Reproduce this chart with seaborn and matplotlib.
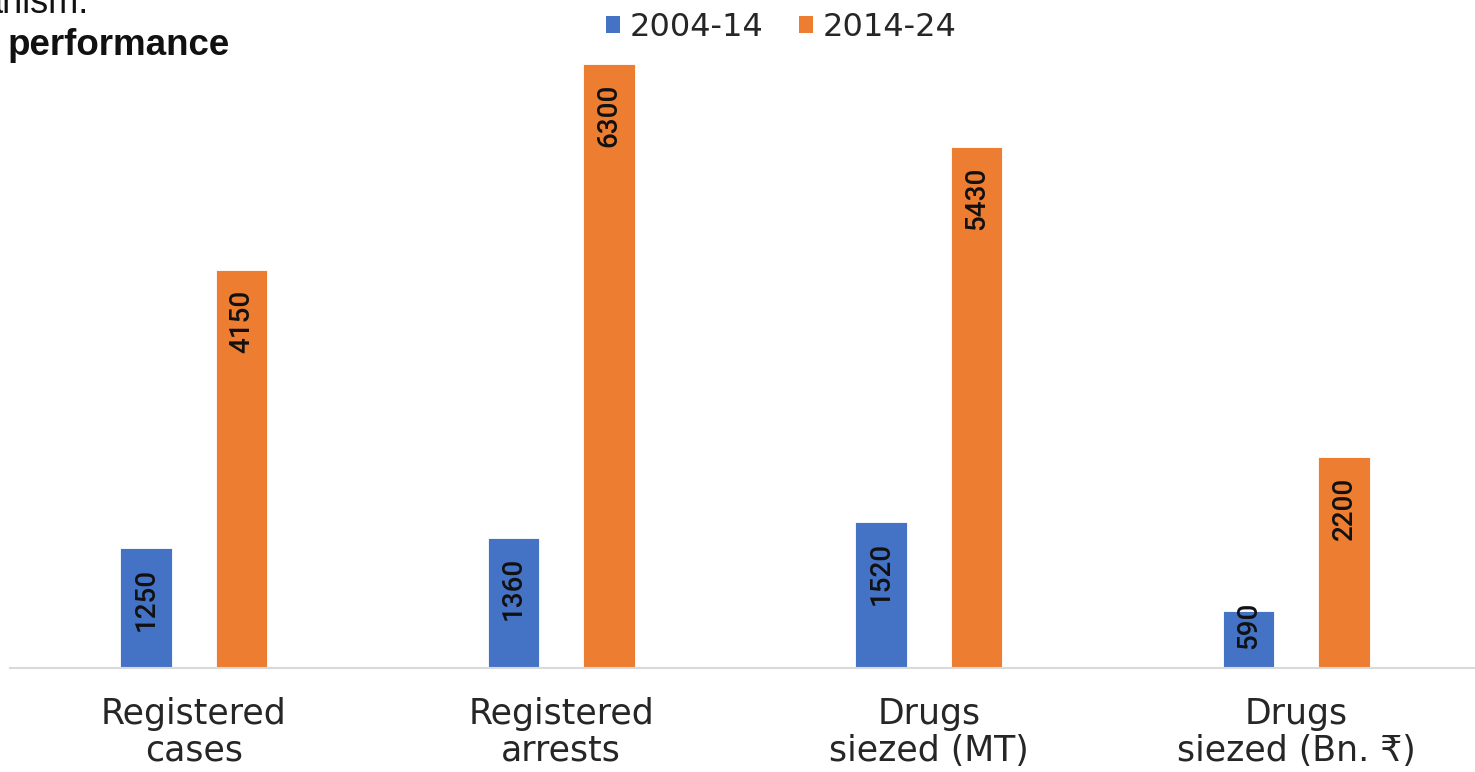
import pandas as pd
import seaborn as sns
import matplotlib.pyplot as plt
from matplotlib.patches import Patch

# Data
categories = ['Registered\ncases', 'Registered\narrests', 'Drugs\nsiezed (MT)', 'Drugs\nsiezed (Bn. ₹)']
periods = ['2004-14', '2014-24']
vals_2004_14 = [1250, 1360, 1520, 590]
vals_2014_24 = [4150, 6300, 5430, 2200]

df = pd.DataFrame({
    'category': categories * 2,
    'period': [periods[0]] * 4 + [periods[1]] * 4,
    'value': vals_2004_14 + vals_2014_24,
})

palette = {'2004-14': '#4472C4', '2014-24': '#ED7D31'}
text_col = '#262626'

sns.set_theme(style='white')
plt.rcParams['font.family'] = ['DejaVu Sans']

W, H = 1475, 772
fig = plt.figure(figsize=(W / 100, H / 100), dpi=100)
# axes placed in pixel terms: left 10px, baseline at y=668, top at y=30
ax = fig.add_axes([10 / W, (H - 668) / H, (W - 10) / W, (668 - 30) / H])

sns.barplot(data=df, x='category', y='value', hue='period', palette=palette,
            width=0.52, gap=0.46, ax=ax, legend=False,
            edgecolor='white', linewidth=0.6, saturation=1)

ax.set_xlim(-0.5, 3.486)
ax.set_ylim(0, 6300 * 638 / 604)
for s in ['top', 'right', 'left']:
    ax.spines[s].set_visible(False)
ax.spines['bottom'].set_color('#d9d9d9')
ax.spines['bottom'].set_linewidth(1.5)
ax.set_yticks([])
ax.set_xlabel('')
ax.set_ylabel('')
ax.tick_params(axis='x', length=0, pad=21, labelsize=25, labelcolor=text_col)
for lab in ax.get_xticklabels():
    lab.set_linespacing(1.1)

# value labels, rotated, inside bar top (small bars: near the base)
lab_font = ['Roboto', 'DejaVu Sans']
for cont, vals in zip(ax.containers, [vals_2004_14, vals_2014_24]):
    for bar, v in zip(cont, vals):
        cx = bar.get_x() + bar.get_width() / 2
        if v < 1000:
            ax.annotate(str(v), (cx, 0), xytext=(0, 14), textcoords='offset points',
                        rotation=90, ha='center', va='bottom', fontsize=20,
                        family=lab_font, fontweight='medium', color='#111111')
        else:
            ax.annotate(str(v), (cx, v), xytext=(0, -14), textcoords='offset points',
                        rotation=90, ha='center', va='top', fontsize=20,
                        family=lab_font, fontweight='medium', color='#111111')

# legend
handles = [Patch(facecolor=palette[p], edgecolor='none', label=p) for p in periods]
fig.legend(handles=handles, loc='center', bbox_to_anchor=(781 / W, 1 - 27 / H),
           ncol=2, frameon=False, fontsize=23, handlelength=0.45, handleheight=0.45,
           handletextpad=0.3, columnspacing=1.1, labelcolor=text_col)

# cropped heading text from the source page
fig.text(-18 / W, 1 - 13 / H, 'anism.', fontsize=26, family=['Liberation Sans'],
         color='#111111', va='baseline', ha='left')
fig.text(8 / W, 1 - 55 / H, 'performance', fontsize=26.5, family=['Liberation Sans'],
         fontweight='bold', color='#111111', va='baseline', ha='left')

fig.savefig('out.png', dpi=100)
